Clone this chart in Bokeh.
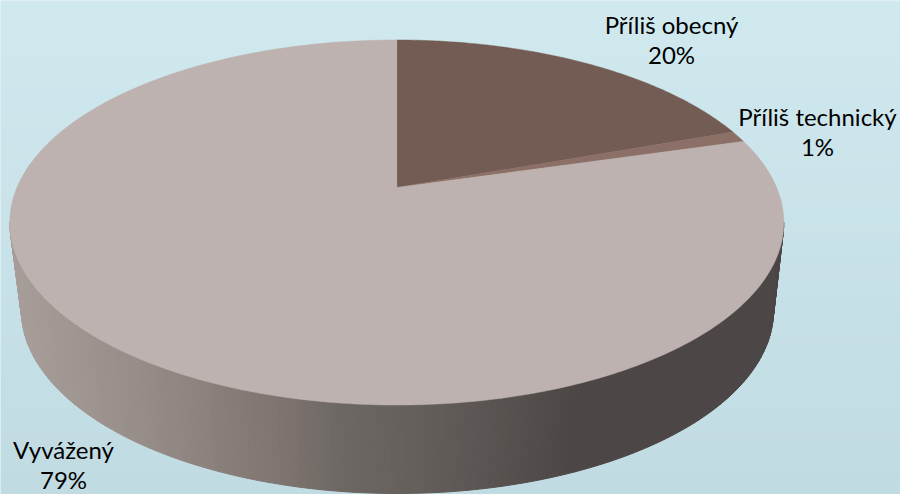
import numpy as np
from bokeh.plotting import figure
from bokeh.models import Range1d
from bokeh.core.properties import value
from bokeh.embed import file_html
from bokeh.resources import INLINE

categories = ["Příliš obecný", "Příliš technický", "Vyvážený"]
shares = [20, 1, 79]
share_labels = ["20%", "1%", "79%"]
colors = ["#735C53", "#8C6F66", "#BDB2AF"]

W, H = 900, 494
p = figure(width=W, height=H, output_backend="svg", toolbar_location=None,
           x_range=Range1d(0, W), y_range=Range1d(H, 0), min_border=0)
p.axis.visible = False
p.grid.visible = False
p.outline_line_color = None
p.background_fill_color = "#C9E2E9"
p.border_fill_color = "#C9E2E9"


def mix(a, b, f):
    return "#%02x%02x%02x" % tuple(int(round(a[i] + (b[i] - a[i]) * f)) for i in range(3))


# background: faint vertical gradient
top_bg, bot_bg = (208, 233, 239), (193, 219, 227)
edges = np.linspace(0, H, 41)
p.quad(left=0, right=W, top=edges[:-1], bottom=edges[1:] + 0.5,
       color=[mix(top_bg, bot_bg, f) for f in np.linspace(0, 1, 40)], line_color=None)

# pie geometry, in page pixels
cx, cy, rx, ry = 396.3, 222.0, 387.0, 182.5
bcx, bcy, brx, bry = 397.0, 310.0, 376.0, 183.0
apex = (396.3, 187.0)
persp = 0.22

# side wall: strips shaded by horizontal position
stop_x = [10, 150, 290, 345, 420, 500, 570, 790]
stop_c = [(168, 158, 154), (149, 139, 135), (124, 114, 110), (108, 103, 99), (100, 95, 91), (88, 83, 80), (76, 71, 70), (76, 71, 70)]
ts = np.radians(np.arange(180, 361, 1.0))
xs, ys, cs = [], [], []
for a, b in zip(ts[:-1], ts[1:]):
    qx = [cx + rx * np.cos(a), cx + rx * np.cos(b), bcx + brx * np.cos(b), bcx + brx * np.cos(a)]
    qy = [cy - ry * np.sin(a), cy - ry * np.sin(b), bcy - bry * np.sin(b), bcy - bry * np.sin(a)]
    xm = np.mean(qx)
    xs.append(qx)
    ys.append(qy)
    cs.append("#%02x%02x%02x" % tuple(int(round(np.interp(xm, stop_x, [c[i] for c in stop_c]))) for i in range(3)))
p.patches(xs, ys, fill_color=cs, line_color=cs, line_width=1)


def rim(phi):
    """Disc angle (clockwise from top) to a point on the top ellipse, in perspective."""
    u, v = np.sin(phi), np.cos(phi)
    d = 1 + persp * v
    return cx + rx * u * np.sqrt(1 - persp ** 2) / d, cy - ry * (v + persp) / d


# top face
bounds = np.cumsum([0] + shares) / sum(shares) * 2 * np.pi
for i, cat in enumerate(categories):
    phi = np.linspace(bounds[i], bounds[i + 1], max(4, int(shares[i] * 6)))
    rx_pts, ry_pts = rim(phi)
    p.patch([apex[0]] + list(rx_pts), [apex[1]] + list(ry_pts),
            fill_color=colors[i], line_color=colors[i], line_width=0.5)

# labels (anchor, first baseline)
label_x = [671, 817, 63]
label_y = [24, 116, 449]
font = value("Lato")
for i in range(3):
    p.text([label_x[i]], [label_y[i]], text=[categories[i]], text_font=font, text_font_size="24px",
           text_color="#000000", text_align="center", text_baseline="alphabetic")
    p.text([label_x[i]], [label_y[i] + 30], text=[share_labels[i]], text_font=font, text_font_size="24px",
           text_color="#000000", text_align="center", text_baseline="alphabetic")

open("out.html", "w").write(file_html(p, INLINE))
